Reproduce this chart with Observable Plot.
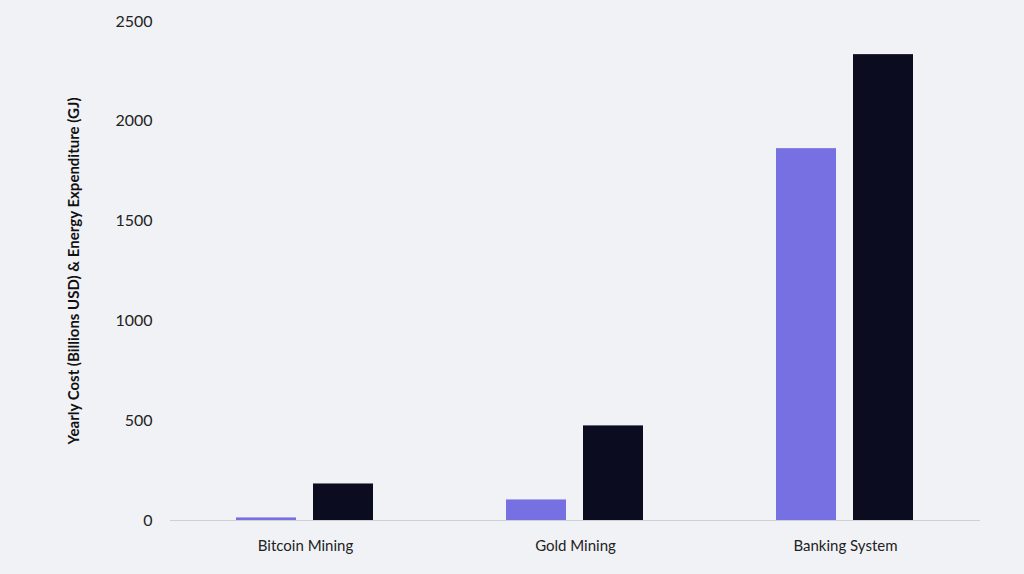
<!DOCTYPE html>
<html>
<head>
<meta charset="utf-8">
<script src="https://cdn.jsdelivr.net/npm/d3@7"></script>
<script src="https://cdn.jsdelivr.net/npm/@observablehq/plot@0.6"></script>
<style>
  html, body { margin: 0; padding: 0; background: #f1f2f6; }
  #chart { width: 1024px; height: 574px; }
  svg { font-family: Lato, "Open Sans", sans-serif; }
</style>
</head>
<body>
<div id="chart"></div>
<script>
const categories = ["Bitcoin Mining", "Gold Mining", "Banking System"];
const series = ["Yearly Cost (Billions USD)", "Energy Expenditure (GJ)"];
const costValues = [13, 103, 1863];
const energyValues = [183, 474, 2334];
const yTicks = [0, 500, 1000, 1500, 2000, 2500];
const colors = ["#7670e3", "#0b0c1f"];

const data = [];
categories.forEach((c, i) => {
  data.push({category: c, series: series[0], value: costValues[i]});
  data.push({category: c, series: series[1], value: energyValues[i]});
});

const chart = Plot.plot({
  width: 1024,
  height: 574,
  marginLeft: 170,
  marginRight: 44,
  marginTop: 21,
  marginBottom: 54,
  style: { background: "#f1f2f6", fontSize: "15px", color: "#222" },
  fx: { domain: categories, padding: 0, label: null, axis: "bottom", tickSize: 0, tickPadding: 20 },
  x: { domain: series, paddingInner: 0.215, paddingOuter: 0.85, axis: null },
  y: { domain: [0, 2500], ticks: yTicks, tickFormat: "d", tickSize: 0, tickPadding: 18,
       label: "Yearly Cost (Billions USD) & Energy Expenditure (GJ)", labelAnchor: "center", labelArrow: "none", labelOffset: 102 },
  color: { domain: series, range: colors },
  marks: [
    Plot.barY(data, { fx: "category", x: "series", y: "value", fill: "series" }),
    Plot.ruleY([0], { stroke: "#cfd0d6", strokeWidth: 1 })
  ]
});

const svg = d3.select(chart);
svg.selectAll("[aria-label='y-axis label'] text")
  .style("font-weight", "bold").style("font-size", "15px").attr("fill", "#111");
svg.selectAll("[aria-label='y-axis tick label'] text").style("font-size", "16px");
document.getElementById("chart").appendChild(chart);
</script>
</body>
</html>
